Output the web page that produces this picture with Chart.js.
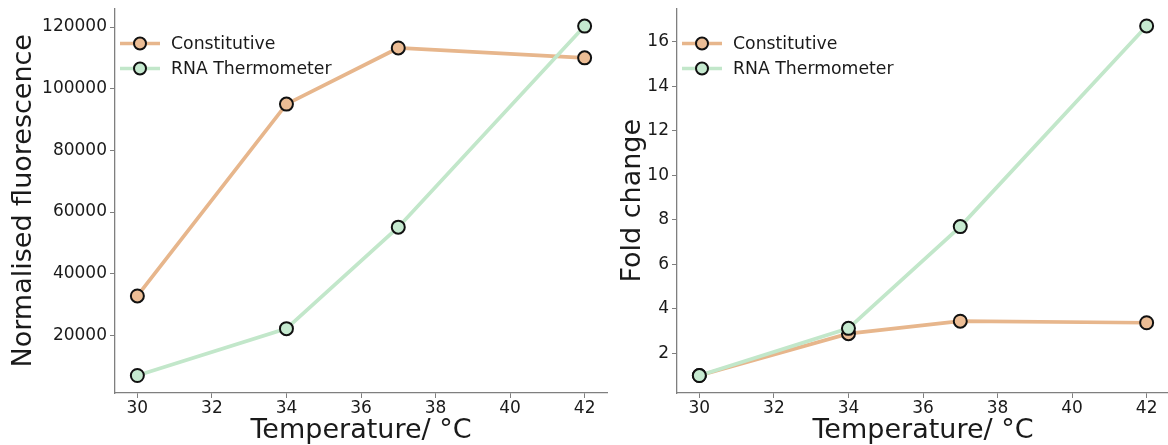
<!DOCTYPE html>
<html>
<head>
<meta charset="utf-8">
<script src="https://cdn.jsdelivr.net/npm/chart.js@4.4.0/dist/chart.umd.min.js"></script>
<style>
  html, body { margin: 0; padding: 0; background: #ffffff; }
  #wrap { position: relative; width: 1168px; height: 445px; overflow: hidden; }
  .box { position: absolute; top: 0; height: 445px; }
  #b1 { left: 0; width: 620px; }
  #b2 { left: 600px; width: 580px; }
</style>
</head>
<body>
<div id="wrap">
  <div class="box" id="b1"><canvas id="c1" width="620" height="445"></canvas></div>
  <div class="box" id="b2"><canvas id="c2" width="580" height="445"></canvas></div>
</div>
<script>
// ---- data ----
const temperatures = [30, 34, 37, 42];
const seriesNames = ["Constitutive", "RNA Thermometer"];
const fluorConstitutive = [32800, 95000, 113200, 110000];
const fluorThermometer = [7000, 22200, 55100, 120300];
const foldConstitutive = [1.0, 2.88, 3.44, 3.37];
const foldThermometer = [1.0, 3.12, 7.69, 16.7];
const xTicks = [30, 32, 34, 36, 38, 40, 42];
const yTicksLeft = [20000, 40000, 60000, 80000, 100000, 120000];
const yTicksRight = [2, 4, 6, 8, 10, 12, 14, 16];

// ---- styles ----
const FONT = "'DejaVu Sans', sans-serif";
const TEXT = "#1a1a1a";
const SPINE = "#7f7f7f";
const orangeLine = "#e7b68c";
const orangeFill = "#ecbd95";
const greenLine = "#c2e7ca";
const greenFill = "#c6ead0";

function pts(xs, ys) { return xs.map((x, i) => ({ x: x, y: ys[i] })); }

function makeDatasets(a, b) {
  return [
    { label: seriesNames[0], data: pts(temperatures, a), borderColor: orangeLine, backgroundColor: orangeFill,
      pointBackgroundColor: orangeFill, pointBorderColor: "#111111", pointBorderWidth: 2, pointRadius: 6.5,
      borderWidth: 3.7, order: 1, clip: false, tension: 0 },
    { label: seriesNames[1], data: pts(temperatures, b), borderColor: greenLine, backgroundColor: greenFill,
      pointBackgroundColor: greenFill, pointBorderColor: "#111111", pointBorderWidth: 2, pointRadius: 6.5,
      borderWidth: 3.7, order: 0, clip: false, tension: 0 }
  ];
}

const legendPlugin = {
  id: 'mplLegend',
  afterDatasetsDraw(chart, args, opts) {
    const ctx = chart.ctx;
    const ca = chart.chartArea;
    const x0 = ca.left + opts.dx;
    chart.data.datasets.forEach((ds, i) => {
      const y = ca.top + opts.dy + i * 25;
      ctx.save();
      ctx.strokeStyle = ds.borderColor;
      ctx.lineWidth = 3.7;
      ctx.beginPath();
      ctx.moveTo(x0, y);
      ctx.lineTo(x0 + 40, y);
      ctx.stroke();
      ctx.beginPath();
      ctx.arc(x0 + 20, y, 6, 0, Math.PI * 2);
      ctx.fillStyle = ds.pointBackgroundColor;
      ctx.fill();
      ctx.lineWidth = 2;
      ctx.strokeStyle = "#111111";
      ctx.stroke();
      ctx.fillStyle = TEXT;
      ctx.font = "17.3px " + FONT;
      ctx.textBaseline = "middle";
      ctx.textAlign = "left";
      ctx.fillText(ds.label, x0 + 51, y + 1);
      ctx.restore();
    });
  }
};

function makeChart(id, a, b, yMin, yMax, yTicks, yTitle, yWidth, padRight, titlePad) {
  return new Chart(document.getElementById(id), {
    type: 'line',
    data: { datasets: makeDatasets(a, b) },
    plugins: [legendPlugin],
    options: {
      responsive: false,
      animation: false,
      layout: { padding: { top: 8, right: padRight, left: 0, bottom: 0 } },
      plugins: {
        legend: { display: false },
        tooltip: { enabled: false },
        mplLegend: { dx: 5, dy: 35 }
      },
      scales: {
        x: {
          type: 'linear', min: 29.4, max: 42.6,
          afterBuildTicks: s => { s.ticks = xTicks.map(v => ({ value: v })); },
          afterFit: s => { s.height = 52; s.paddingLeft = 0; s.paddingRight = 0; },
          grid: { drawOnChartArea: false, drawTicks: true, tickLength: 5, color: SPINE, lineWidth: 1 },
          border: { display: true, color: SPINE, width: 1.3 },
          ticks: { color: TEXT, font: { family: FONT, size: 17 }, padding: 0, maxRotation: 0, autoSkip: false },
          title: { display: true, text: 'Temperature/ °C', color: TEXT, font: { family: FONT, size: 27 }, padding: { top: 1, bottom: -2 } }
        },
        y: {
          type: 'linear', min: yMin, max: yMax,
          afterBuildTicks: s => { s.ticks = yTicks.map(v => ({ value: v })); },
          afterFit: s => { s.width = yWidth; s.paddingTop = 0; s.paddingBottom = 0; },
          grid: { drawOnChartArea: false, drawTicks: true, tickLength: 5, color: SPINE, lineWidth: 1 },
          border: { display: true, color: SPINE, width: 1.3 },
          ticks: { color: TEXT, font: { family: FONT, size: 17 }, padding: 3, autoSkip: false,
                   callback: v => String(v) },
          title: { display: true, text: yTitle, color: TEXT, font: { family: FONT, size: 27 }, padding: { top: titlePad, bottom: 4 } }
        }
      }
    }
  });
}

makeChart('c1', fluorConstitutive, fluorThermometer, 1330, 126000, yTicksLeft, 'Normalised fluorescence', 115, 13, 8);
makeChart('c2', foldConstitutive, foldThermometer, 0.215, 17.485, yTicksRight, 'Fold change', 77, 11, 17);
</script>
</body>
</html>
